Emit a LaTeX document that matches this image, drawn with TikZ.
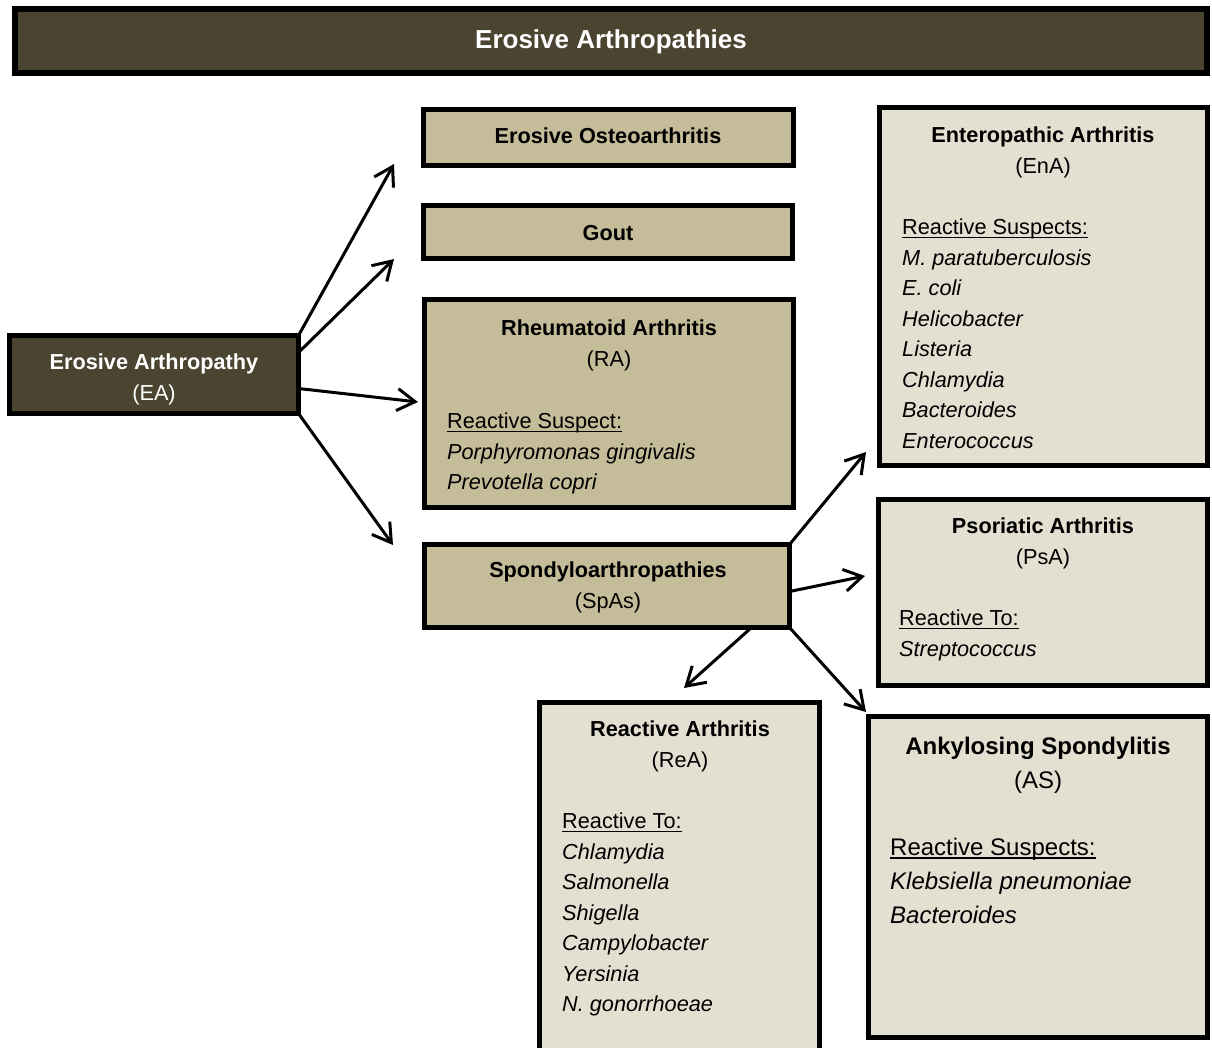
\documentclass[tikz,border=0pt]{standalone}
\usepackage{fontspec}
\setmainfont{Liberation Sans}
\usetikzlibrary{arrows.meta,calc}
\definecolor{darkol}{HTML}{4A4430}
\definecolor{tanfill}{HTML}{C5BC99}
\definecolor{lightfill}{HTML}{E3E0D1}
\newcommand\myul[1]{\setbox0\hbox{#1}\rlap{\rule[-3.5pt]{\wd0}{1.8pt}}\box0}
\begin{document}
\begin{tikzpicture}[x=1pt,y=-1pt,
  box/.style={draw=black, line width=5pt, inner sep=0pt, outer sep=0pt},
  darkbox/.style={box, fill=darkol},
  tanbox/.style={box, fill=tanfill},
  lightbx/.style={box, fill=lightfill},
  txt/.style={inner sep=0pt, font=\fontsize{21.7}{30.5}\selectfont},
  head/.style={txt, align=center, anchor=north},
  lst/.style={txt, align=left, anchor=north west},
  bigtxt/.style={inner sep=0pt, font=\fontsize{24}{34}\selectfont},
  arr/.style={line width=3pt, -{Straight Barb[length=18pt,width=22pt]}}]
\useasboundingbox (0,0) rectangle (1212,1047);
\clip (0,0) rectangle (1212,1047);

% boxes
\node[darkbox, line width=6pt, minimum width=1192pt, minimum height=64pt] (title) at (611,41) {};
\node[darkbox, minimum width=289pt, minimum height=78pt] (ea) at (154,374.5) {};
\node[tanbox, minimum width=370pt, minimum height=56pt] (eo) at (608.5,137.5) {};
\node[tanbox, minimum width=369pt, minimum height=53pt] (gout) at (608,232) {};
\node[tanbox, minimum width=369pt, minimum height=208pt] (ra) at (609,403.5) {};
\node[tanbox, minimum width=365pt, minimum height=83pt] (sp) at (607,586) {};
\node[lightbx, minimum width=328pt, minimum height=358pt] (ena) at (1043.5,286.5) {};
\node[lightbx, minimum width=329pt, minimum height=186pt] (psa) at (1043,592.5) {};
\node[lightbx, minimum width=280pt, minimum height=350pt] (rea) at (679.5,877.5) {};
\node[lightbx, minimum width=339pt, minimum height=321pt] (as) at (1038,877) {};

% arrow tips
\coordinate (t1) at (394,164);
\coordinate (t2) at (394,259);
\coordinate (t3) at (418,402);
\coordinate (t4) at (393,545);
\coordinate (t5) at (866,452);
\coordinate (t6) at (865,576);
\coordinate (t7) at (866,712);
\coordinate (t8) at (684,688);

\draw[arr] (ea.north east) -- (t1);
\draw[arr] ($(ea.north east)+(0,17)$) -- (t2);
\draw[arr] ($(ea.north east)+(0,53)$) -- (t3);
\draw[arr] (ea.south east) -- (t4);
\draw[arr] (sp.north east) -- (t5);
\draw[arr] ($(sp.north east)+(0,47)$) -- (t6);
\draw[arr] (sp.south east) -- (t7);
\draw[arr] ($(sp.south east)+(-38,0)$) -- (t8);

% texts
\node[inner sep=0pt, font=\fontsize{26}{30}\selectfont\bfseries, text=white] (titletext) at (611,42) {Erosive Arthropathies};
\node[head, text=white] (eatext) at (154,354) {\textbf{Erosive Arthropathy}\\(EA)};
\node[txt, font=\fontsize{21.7}{30.5}\selectfont\bfseries] (eotext) at (608,136) {Erosive Osteoarthritis};
\node[txt, font=\fontsize{21.7}{30.5}\selectfont\bfseries] (gouttext) at (608,233) {Gout};

\node[head] (rahead) at (609,320) {\textbf{Rheumatoid Arthritis}\\(RA)};
\node[lst] (ralist) at (447,413) {\myul{Reactive Suspect:}\\ \textit{Porphyromonas gingivalis}\\ \textit{Prevotella copri}};

\node[head] (sphead) at (608,562) {\textbf{Spondyloarthropathies}\\(SpAs)};

\node[head] (enahead) at (1043,127) {\textbf{Enteropathic Arthritis}\\(EnA)};
\node[lst] (enalist) at (902,219) {\myul{Reactive Suspects:}\\ \textit{M. paratuberculosis}\\ \textit{E. coli}\\ \textit{Helicobacter}\\ \textit{Listeria}\\ \textit{Chlamydia}\\ \textit{Bacteroides}\\ \textit{Enterococcus}};

\node[head] (psahead) at (1043,518) {\textbf{Psoriatic Arthritis}\\(PsA)};
\node[lst] (psalist) at (899,610) {\myul{Reactive To:}\\ \textit{Streptococcus}};

\node[head] (reahead) at (680,721) {\textbf{Reactive Arthritis}\\(ReA)};
\node[lst] (realist) at (562,813) {\myul{Reactive To:}\\ \textit{Chlamydia}\\ \textit{Salmonella}\\ \textit{Shigella}\\ \textit{Campylobacter}\\ \textit{Yersinia}\\ \textit{N. gonorrhoeae}};

\node[bigtxt, align=center, anchor=north] (ashead) at (1038,737) {\textbf{Ankylosing Spondylitis}\\(AS)};
\node[bigtxt, align=left, anchor=north west] (aslist) at (890,838) {\myul{Reactive Suspects:}\\ \textit{Klebsiella pneumoniae}\\ \textit{Bacteroides}};
\end{tikzpicture}
\end{document}
